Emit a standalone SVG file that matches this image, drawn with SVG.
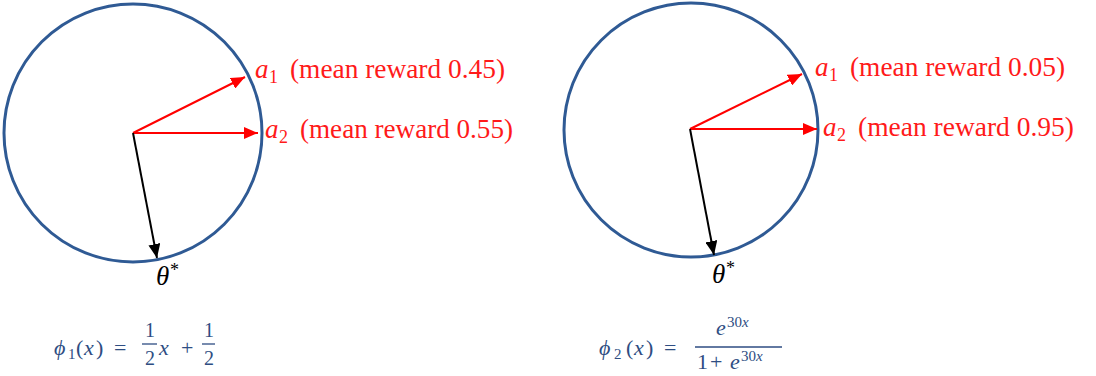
<svg xmlns="http://www.w3.org/2000/svg" width="1096" height="376" viewBox="0 0 1096 376">
<style>
.circ{fill:none;stroke:#2f5a94;stroke-width:3}
.red{stroke:#ff0000;stroke-width:2;fill:none}
.blk{stroke:#000;stroke-width:2;fill:none}
text{font-family:"Liberation Serif","DejaVu Serif",serif}
.lbl{font-size:27px;fill:#ff1a1a}
.it{font-style:italic}
.th{font-size:27px;fill:#000}
.fm{font-size:22px;fill:#2e4d82}
.sub{font-size:18px}
.sub2{font-size:15px}
.fr{font-size:20px}
.bar{stroke:#2e4d82;stroke-width:1.3}
</style>
<defs>
<marker id="ar" markerWidth="14" markerHeight="12" refX="14" refY="6" orient="auto" markerUnits="userSpaceOnUse"><path d="M0,0 L14,6 L0,12 z" fill="#ff0000"/></marker>
<marker id="ab" markerWidth="14" markerHeight="12" refX="14" refY="6" orient="auto" markerUnits="userSpaceOnUse"><path d="M0,0 L14,6 L0,12 z" fill="#000"/></marker>
</defs>
<g id="circle1"><circle class="circ" cx="133" cy="133" r="129"/></g>
<g id="circle2"><circle class="circ" cx="691" cy="130" r="127"/></g>
<g id="connectors">
<line class="red" x1="133" y1="133" x2="245" y2="77" marker-end="url(#ar)"/>
<line class="red" x1="133" y1="133" x2="258" y2="133" marker-end="url(#ar)"/>
<line class="blk" x1="133" y1="133" x2="157" y2="258" marker-end="url(#ab)"/>
<line class="red" x1="690" y1="129" x2="802" y2="74" marker-end="url(#ar)"/>
<line class="red" x1="690" y1="129" x2="817" y2="129" marker-end="url(#ar)"/>
<line class="blk" x1="690" y1="129" x2="714" y2="255" marker-end="url(#ab)"/>
</g>
<g id="label-a1-left">
<text class="lbl it" x="255" y="78">a</text><text class="lbl sub" x="269" y="83">1</text>
<text class="lbl" x="290" y="78" textLength="215" lengthAdjust="spacingAndGlyphs">(mean reward 0.45)</text>
</g>
<g id="label-a2-left">
<text class="lbl it" x="265" y="138">a</text><text class="lbl sub" x="279" y="143">2</text>
<text class="lbl" x="300" y="138" textLength="213" lengthAdjust="spacingAndGlyphs">(mean reward 0.55)</text>
</g>
<g id="label-a1-right">
<text class="lbl it" x="815" y="76">a</text><text class="lbl sub" x="829" y="81">1</text>
<text class="lbl" x="850" y="76" textLength="215" lengthAdjust="spacingAndGlyphs">(mean reward 0.05)</text>
</g>
<g id="label-a2-right">
<text class="lbl it" x="823" y="136">a</text><text class="lbl sub" x="837" y="141">2</text>
<text class="lbl" x="858" y="136" textLength="216" lengthAdjust="spacingAndGlyphs">(mean reward 0.95)</text>
</g>
<g id="theta-left"><text class="th it" x="156" y="285">θ</text><text class="th sub" x="170" y="276">*</text></g>
<g id="theta-right"><text class="th it" x="712" y="283">θ</text><text class="th sub" x="726" y="274">*</text></g>
<g id="formula1">
<text class="fm it" x="54" y="355">ϕ</text>
<text class="fm sub2" x="68" y="359">1</text>
<text class="fm" x="76" y="355">(</text>
<text class="fm it" x="84" y="355">x</text>
<text class="fm" x="96" y="355">)</text>
<text class="fm" x="114" y="355">=</text>
<text class="fm fr" x="145" y="337">1</text>
<line class="bar" x1="142" y1="344" x2="157" y2="344"/>
<text class="fm fr" x="145" y="365">2</text>
<text class="fm it" x="159" y="355">x</text>
<text class="fm" x="181" y="355">+</text>
<text class="fm fr" x="204" y="337">1</text>
<line class="bar" x1="202" y1="344" x2="215" y2="344"/>
<text class="fm fr" x="204" y="365">2</text>
</g>
<g id="formula2">
<text class="fm it" x="599" y="355">ϕ</text>
<text class="fm sub2" x="614" y="359">2</text>
<text class="fm" x="626" y="355">(</text>
<text class="fm it" x="634" y="355">x</text>
<text class="fm" x="646" y="355">)</text>
<text class="fm" x="664" y="355">=</text>
<text class="fm it" x="716" y="335">e</text>
<text class="fm sub2" x="727" y="327">30<tspan class="it">x</tspan></text>
<line class="bar" x1="695" y1="347" x2="782" y2="347"/>
<text class="fm" x="697" y="369">1</text>
<text class="fm" x="710" y="369">+</text>
<text class="fm it" x="730" y="369">e</text>
<text class="fm sub2" x="741" y="361">30<tspan class="it">x</tspan></text>
</g>
</svg>
